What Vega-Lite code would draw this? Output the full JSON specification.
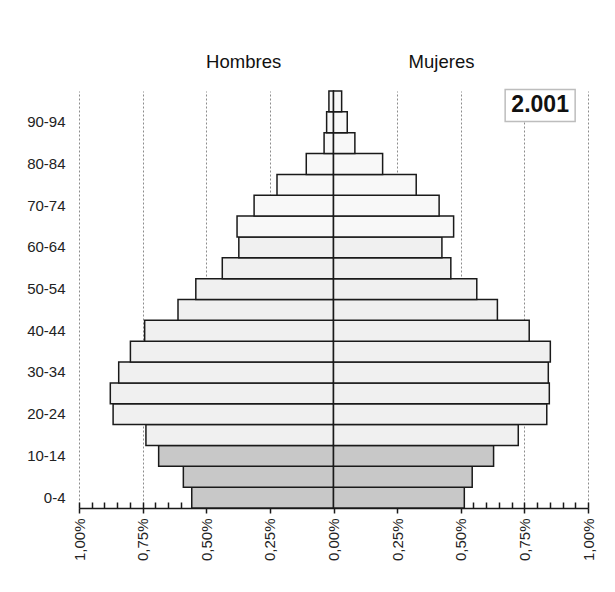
{
  "$schema": "https://vega.github.io/schema/vega-lite/v6.json",
  "autosize": "none",
  "width": 509,
  "height": 417,
  "padding": {"left": 79, "top": 91, "right": 27, "bottom": 84},
  "background": "white",
  "config": {
    "view": {"stroke": null},
    "font": "Liberation Sans",
    "axis": {"labelFont": "Liberation Sans", "title": null}
  },
  "datasets": {
    "piramide": [
      {"edad": "0-4", "sexo": "Hombres", "valor": -0.557, "grupo": "0-14"},
      {"edad": "5-9", "sexo": "Hombres", "valor": -0.590, "grupo": "0-14"},
      {"edad": "10-14", "sexo": "Hombres", "valor": -0.687, "grupo": "0-14"},
      {"edad": "15-19", "sexo": "Hombres", "valor": -0.737, "grupo": "15-64"},
      {"edad": "20-24", "sexo": "Hombres", "valor": -0.866, "grupo": "15-64"},
      {"edad": "25-29", "sexo": "Hombres", "valor": -0.877, "grupo": "15-64"},
      {"edad": "30-34", "sexo": "Hombres", "valor": -0.844, "grupo": "15-64"},
      {"edad": "35-39", "sexo": "Hombres", "valor": -0.798, "grupo": "15-64"},
      {"edad": "40-44", "sexo": "Hombres", "valor": -0.742, "grupo": "15-64"},
      {"edad": "45-49", "sexo": "Hombres", "valor": -0.611, "grupo": "15-64"},
      {"edad": "50-54", "sexo": "Hombres", "valor": -0.541, "grupo": "15-64"},
      {"edad": "55-59", "sexo": "Hombres", "valor": -0.437, "grupo": "15-64"},
      {"edad": "60-64", "sexo": "Hombres", "valor": -0.372, "grupo": "15-64"},
      {"edad": "65-69", "sexo": "Hombres", "valor": -0.379, "grupo": "65+"},
      {"edad": "70-74", "sexo": "Hombres", "valor": -0.312, "grupo": "65+"},
      {"edad": "75-79", "sexo": "Hombres", "valor": -0.222, "grupo": "65+"},
      {"edad": "80-84", "sexo": "Hombres", "valor": -0.107, "grupo": "65+"},
      {"edad": "85-89", "sexo": "Hombres", "valor": -0.037, "grupo": "65+"},
      {"edad": "90-94", "sexo": "Hombres", "valor": -0.027, "grupo": "65+"},
      {"edad": "95-99", "sexo": "Hombres", "valor": -0.018, "grupo": "65+"},
      {"edad": "0-4", "sexo": "Mujeres", "valor": 0.514, "grupo": "0-14"},
      {"edad": "5-9", "sexo": "Mujeres", "valor": 0.545, "grupo": "0-14"},
      {"edad": "10-14", "sexo": "Mujeres", "valor": 0.629, "grupo": "0-14"},
      {"edad": "15-19", "sexo": "Mujeres", "valor": 0.726, "grupo": "15-64"},
      {"edad": "20-24", "sexo": "Mujeres", "valor": 0.838, "grupo": "15-64"},
      {"edad": "25-29", "sexo": "Mujeres", "valor": 0.848, "grupo": "15-64"},
      {"edad": "30-34", "sexo": "Mujeres", "valor": 0.844, "grupo": "15-64"},
      {"edad": "35-39", "sexo": "Mujeres", "valor": 0.852, "grupo": "15-64"},
      {"edad": "40-44", "sexo": "Mujeres", "valor": 0.769, "grupo": "15-64"},
      {"edad": "45-49", "sexo": "Mujeres", "valor": 0.644, "grupo": "15-64"},
      {"edad": "50-54", "sexo": "Mujeres", "valor": 0.563, "grupo": "15-64"},
      {"edad": "55-59", "sexo": "Mujeres", "valor": 0.461, "grupo": "15-64"},
      {"edad": "60-64", "sexo": "Mujeres", "valor": 0.426, "grupo": "15-64"},
      {"edad": "65-69", "sexo": "Mujeres", "valor": 0.472, "grupo": "65+"},
      {"edad": "70-74", "sexo": "Mujeres", "valor": 0.415, "grupo": "65+"},
      {"edad": "75-79", "sexo": "Mujeres", "valor": 0.325, "grupo": "65+"},
      {"edad": "80-84", "sexo": "Mujeres", "valor": 0.193, "grupo": "65+"},
      {"edad": "85-89", "sexo": "Mujeres", "valor": 0.084, "grupo": "65+"},
      {"edad": "90-94", "sexo": "Mujeres", "valor": 0.054, "grupo": "65+"},
      {"edad": "95-99", "sexo": "Mujeres", "valor": 0.032, "grupo": "65+"}
    ],
    "anio": [{"texto": "2.001"}]
  },
  "resolve": {"axis": {"x": "independent"}},
  "layer": [
    {
      "data": {"name": "piramide"},
      "mark": {"type": "bar", "stroke": "#1a1a1a", "strokeWidth": 1.5},
      "encoding": {
        "y": {
          "field": "edad",
          "type": "nominal",
          "scale": {
            "domain": ["95-99","90-94","85-89","80-84","75-79","70-74","65-69","60-64","55-59","50-54","45-49","40-44","35-39","30-34","25-29","20-24","15-19","10-14","5-9","0-4"],
            "paddingInner": 0,
            "paddingOuter": 0
          },
          "axis": {
            "values": ["90-94","80-84","70-74","60-64","50-54","40-44","30-34","20-24","10-14","0-4"],
            "domain": false,
            "ticks": false,
            "labelPadding": 14,
            "labelFontSize": 15,
            "labelColor": "#222222"
          }
        },
        "x": {
          "field": "valor",
          "type": "quantitative",
          "scale": {"domain": [-1, 1], "nice": false, "zero": false},
          "axis": {
            "orient": "bottom",
            "values": [-1, -0.75, -0.5, -0.25, 0, 0.25, 0.5, 0.75, 1],
            "labelExpr": "replace(format(abs(datum.value), '.2f'), '.', ',') + '%'",
            "labelAngle": 270,
            "labelFontSize": 15,
            "labelColor": "#222222",
            "labelPadding": 5,
            "tickSize": 5,
            "tickColor": "#1a1a1a",
            "tickWidth": 1.5,
            "domain": false,
            "grid": true,
            "gridColor": "#8c8c8c",
            "gridDash": [2, 2],
            "gridWidth": 1,
            "gridOpacity": {"condition": {"test": "datum.value == 0", "value": 0}, "value": 1}
          }
        },
        "color": {
          "field": "grupo",
          "type": "nominal",
          "scale": {"domain": ["0-14", "15-64", "65+"], "range": ["#c8c8c8", "#f0f0f0", "#f8f8f8"]},
          "legend": null
        }
      }
    },
    {
      "mark": {"type": "rule", "color": "#1a1a1a", "strokeWidth": 2},
      "encoding": {
        "x": {
          "datum": 0,
          "type": "quantitative",
          "axis": {
            "orient": "bottom",
            "values": [-1,-0.95,-0.9,-0.85,-0.8,-0.75,-0.7,-0.65,-0.6,-0.55,-0.5,-0.45,-0.4,-0.35,-0.3,-0.25,-0.2,-0.15,-0.1,-0.05,0,0.05,0.1,0.15,0.2,0.25,0.3,0.35,0.4,0.45,0.5,0.55,0.6,0.65,0.7,0.75,0.8,0.85,0.9,0.95,1],
            "labels": false,
            "tickSize": -6,
            "tickColor": "#1a1a1a",
            "tickWidth": 1.5,
            "domain": true,
            "domainColor": "#1a1a1a",
            "domainWidth": 1.5,
            "grid": false
          }
        }
      }
    },
    {
      "data": {"name": "anio"},
      "mark": {"type": "point", "shape": "M-70,-24L70,-24L70,40L-70,40Z", "size": 1, "filled": true, "fill": "white", "stroke": "#bdbdbd", "strokeWidth": 1.5, "opacity": 1},
      "encoding": {
        "x": {
          "datum": 0.812,
          "type": "quantitative",
          "axis": {
            "orient": "top",
            "values": [-0.355, 0.4225],
            "labelExpr": "datum.value < 0 ? 'Hombres' : 'Mujeres'",
            "labelFontSize": 18.5,
            "labelColor": "#111111",
            "labelBaseline": "alphabetic",
            "labelPadding": 24,
            "ticks": false,
            "domain": false,
            "grid": false
          }
        },
        "y": {"datum": "95-99", "type": "nominal"}
      }
    },
    {
      "data": {"name": "anio"},
      "mark": {"type": "text", "fontWeight": "bold", "fontSize": 23, "font": "Liberation Sans", "baseline": "middle", "align": "center", "dy": 4, "color": "#111111"},
      "encoding": {
        "x": {"datum": 0.812, "type": "quantitative", "axis": null},
        "y": {"datum": "95-99", "type": "nominal"},
        "text": {"field": "texto", "type": "nominal"}
      }
    }
  ]
}
